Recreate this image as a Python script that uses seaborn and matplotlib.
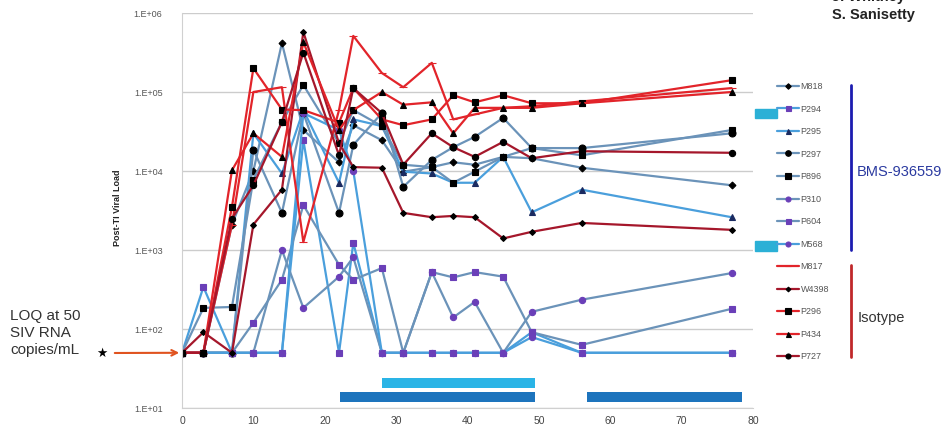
import matplotlib
matplotlib.use("Agg")
import matplotlib.pyplot as plt
from matplotlib.lines import Line2D
from matplotlib.patches import Rectangle
from matplotlib.ticker import NullLocator
import seaborn as sns
import pandas as pd

days = [0, 3, 7, 10, 14, 17, 22, 24, 28, 31, 35, 38, 41, 45, 49, 56, 77]

# BMS-936559 group
m818 = [50, 50, 2100, 10000, 417000, 33000, 12900, 38000, 24500, 9800, 11200, 12900, 12000, 15100, 14500, 11000, 6600]
p294 = [50, 340, 50, 50, 50, 24500, 50, 1230, 50, 50, 50, 50, 50, 50, 91, 50, 50]
p295 = [50, 50, 50, 30000, 9300, 59000, 7100, 45000, 37000, 9800, 9300, 7100, 7100, 15100, 3000, 5800, 2600]
p297 = [50, 50, 50, 18600, 2950, 54000, 2950, 21400, 54000, 6300, 13800, 20000, 27000, 47000, 19500, 19500, 30000]
p896 = [50, 185, 190, 7800, 41700, 123000, 22400, 59000, 37000, 12000, 11200, 7100, 9800, 15100, 19500, 15800, 33000]
p310 = [50, 50, 50, 50, 1000, 185, 460, 810, 50, 50, 525, 140, 220, 50, 165, 235, 510]
p604 = [50, 50, 50, 120, 420, 3700, 650, 420, 590, 50, 525, 450, 525, 460, 91, 63, 180]
m568 = [50, 50, 50, 50, 50, 54000, 33000, 10000, 50, 50, 50, 50, 50, 50, 79, 50, 50]

# Isotype group
m817 = [50, 50, 2100, 100000, 115000, 1260, 59000, 513000, 174000, 115000, 234000, 45000, 52000, 63000, 66000, 76000, 112000]
w4398 = [50, 91, 50, 2100, 5800, 575000, 22400, 11200, 11000, 2950, 2600, 2700, 2600, 1400, 1700, 2200, 1800]
p296 = [50, 50, 3500, 200000, 60000, 59000, 41000, 112000, 45000, 38000, 45000, 91000, 74000, 91000, 72000, 72000, 141000]
p434 = [50, 50, 10200, 30000, 15100, 427000, 33000, 59000, 100000, 69000, 74000, 30000, 63000, 63000, 63000, 72000, 100000]
p727 = [50, 50, 2500, 6600, 41700, 316000, 15800, 112000, 54000, 12000, 30000, 20000, 15100, 23400, 14500, 17800, 17000]

names = ["M818", "P294", "P295", "P297", "P896", "P310", "P604", "M568",
         "M817", "W4398", "P296", "P434", "P727"]
series = [m818, p294, p295, p297, p896, p310, p604, m568,
          m817, w4398, p296, p434, p727]

# treatment bars: start day, end day, low, high
bar_start = [28, 22.2, 56.8]
bar_end = [49.5, 49.5, 78.5]
bar_low = [18, 12, 12]
bar_high = [24, 15.8, 15.8]
bar_color = ["#2ab4e6", "#1d74bd", "#1d74bd"]

blue = "#6b93b9"
bright = "#4a9fdc"
purple = "#6a3fb8"
red = "#e2242a"
darkred = "#a5172b"
styles = {
    "M818": (blue, "D", "black", 3.5),
    "P294": (bright, "s", purple, 4.5),
    "P295": (bright, "^", "#1a2a60", 4.5),
    "P297": (blue, "o", "black", 5),
    "P896": (blue, "s", "black", 5),
    "P310": (blue, "o", purple, 4.5),
    "P604": (blue, "s", purple, 4.5),
    "M568": (bright, "o", purple, 4.5),
    "M817": (red, "_", red, 6),
    "W4398": (darkred, "D", "black", 3),
    "P296": (red, "s", "black", 5),
    "P434": (red, "^", "black", 4.5),
    "P727": (darkred, "o", "black", 4.5),
}

sns.set_style("white")
plt.rcParams["font.family"] = ["Liberation Sans", "DejaVu Sans"]

fig = plt.figure(figsize=(9.53, 4.36), dpi=100)
ax = fig.add_axes([182 / 953, 1 - 408 / 436, (753 - 182) / 953, (408 - 13) / 436])

for s, e, lo, hi, c in zip(bar_start, bar_end, bar_low, bar_high, bar_color):
    ax.fill_between([s, e], lo, hi, color=c, lw=0)

for name, vals in zip(names, series):
    color, marker, mcol, ms = styles[name]
    df = pd.DataFrame({"day": days, "load": vals})
    sns.lineplot(data=df, x="day", y="load", ax=ax, color=color, lw=1.6,
                 marker=marker, markersize=ms, markerfacecolor=mcol,
                 markeredgecolor=mcol, markeredgewidth=0.8,
                 errorbar=None, sort=False, label=name)

ax.set_yscale("log")
ax.set_ylim(10, 1e6)
ax.set_xlim(0, 80)
ax.yaxis.set_minor_locator(NullLocator())
yt = [1e1, 1e2, 1e3, 1e4, 1e5, 1e6]
ax.set_yticks(yt)
ax.set_yticklabels(["1.E+01", "1.E+02", "1.E+03", "1.E+04", "1.E+05", "1.E+06"])
ax.set_xticks(range(0, 81, 10))
ax.tick_params(axis="y", length=0, pad=14, labelsize=6.5, labelcolor="#555555")
ax.tick_params(axis="x", length=0, pad=6, labelsize=7.5, labelcolor="#444444")
ax.yaxis.grid(True, color="#cccccc", lw=1)
ax.xaxis.grid(False)
for side in ["top", "right"]:
    ax.spines[side].set_visible(False)
ax.spines["left"].set_color("#d0d0d0")
ax.spines["bottom"].set_color("#d0d0d0")
ax.set_xlabel("")
ax.set_ylabel("")

handles, labels = ax.get_legend_handles_labels()
ax.get_legend().remove()
leg = fig.legend(handles, labels, loc="upper left", bbox_to_anchor=(777 / 953, 1 - 82 / 436),
                 frameon=False, fontsize=6.5, handlelength=2.4, handletextpad=0.2,
                 labelspacing=1.5, borderaxespad=0, borderpad=0, markerscale=0.8)
for t in leg.get_texts():
    t.set_color("#555555")

# group brackets
fig.add_artist(Line2D([851 / 953] * 2, [1 - 85 / 436, 1 - 250 / 436], color="#1c1cb0", lw=2))
fig.add_artist(Line2D([851 / 953] * 2, [1 - 265 / 436, 1 - 357 / 436], color="#c0282a", lw=2))
fig.text(857 / 953, 1 - 172 / 436, "BMS-936559", fontsize=10.5, color="#2b3aa0", va="center")
fig.text(858 / 953, 1 - 318 / 436, "Isotype", fontsize=10.5, color="#333333", va="center")
fig.add_artist(Rectangle((755 / 953, 1 - 118 / 436), 22 / 953, 9 / 436, color="#2bb0d6"))
fig.add_artist(Rectangle((755 / 953, 1 - 251 / 436), 22 / 953, 10 / 436, color="#2bb0d6"))

# authors
fig.text(832 / 953, 1 + 3 / 436, "J. Whitney", fontsize=10.5, weight="bold", color="#222222", va="center")
fig.text(832 / 953, 1 - 15 / 436, "S. Sanisetty", fontsize=10.5, weight="bold", color="#222222", va="center")

# axis label and LOQ note
fig.text(118 / 953, 1 - 208 / 436, "Post-TI Viral Load", rotation=90, fontsize=6.5,
         weight="bold", color="#222222", ha="center", va="center")
fig.text(10 / 953, 1 - 333 / 436, "LOQ at 50\nSIV RNA\ncopies/mL", fontsize=11,
         color="#333333", ha="left", va="center", linespacing=1.3)
fig.text(102 / 953, 1 - 353 / 436, "★", fontsize=9, color="black", ha="center", va="center",
         family=["DejaVu Sans"])
ax.annotate("", xy=(0, 50), xycoords="data", xytext=(112 / 953, 1 - 353 / 436),
            textcoords="figure fraction", annotation_clip=False,
            arrowprops=dict(arrowstyle="->", color="#e0531f", lw=1.5))

fig.savefig("out.png", dpi=100)
